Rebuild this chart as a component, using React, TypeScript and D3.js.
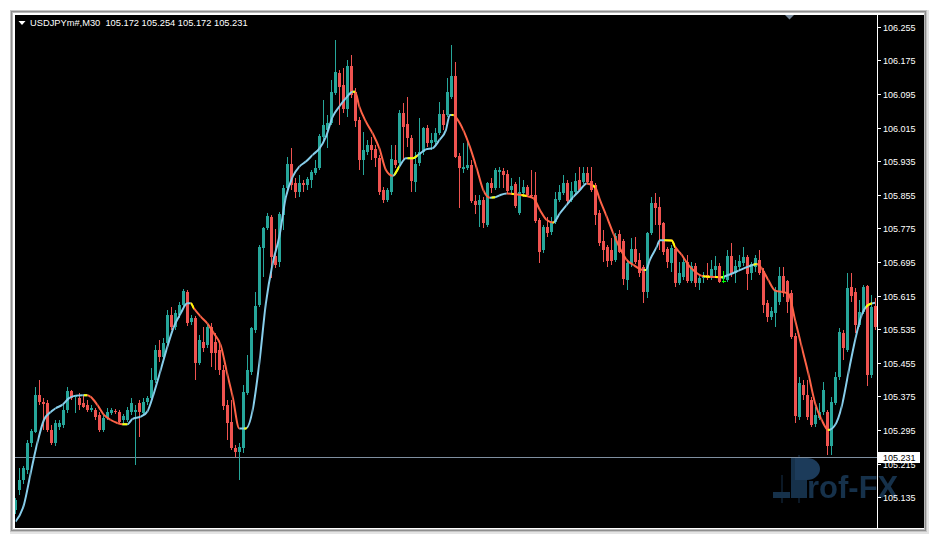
import React from "react";
import * as d3 from "d3";

// ---------- DATA (USDJPYm#, M30 candles) ----------
const opens = [
  105.105,105.152,105.176,105.200,105.264,105.290,105.378,105.362,105.359,105.295,
  105.264,105.302,105.307,105.343,105.388,105.374,105.371,105.359,105.355,105.343,
  105.343,105.331,105.295,105.324,105.336,105.340,105.338,105.319,105.319,105.338,
  105.338,105.359,105.336,105.362,105.371,105.414,105.486,105.469,105.502,105.569,
  105.540,105.569,105.593,105.624,105.552,105.562,105.455,105.505,105.497,105.540,
  105.505,105.486,105.438,105.355,105.314,105.252,105.243,105.252,105.383,105.433,
  105.533,105.593,105.728,105.776,105.802,105.709,105.695,105.807,105.871,105.928,
  105.883,105.862,105.883,105.878,105.890,105.907,105.919,105.992,106.009,106.026,
  106.097,106.145,106.116,106.059,106.161,106.100,106.033,105.938,105.957,105.973,
  105.964,105.942,105.866,105.843,105.862,105.938,105.931,106.050,106.023,105.990,
  105.885,105.931,105.957,106.014,105.978,105.981,106.002,106.047,106.045,106.088,
  106.138,105.947,105.916,105.919,105.926,105.840,105.831,105.843,105.783,105.883,
  105.871,105.909,105.911,105.904,105.866,105.881,105.812,105.859,105.874,105.854,
  105.854,105.795,105.723,105.778,105.766,105.790,105.843,105.859,105.883,105.843,
  105.862,105.890,105.885,105.907,105.888,105.878,105.812,105.745,105.731,105.723,
  105.700,105.762,105.745,105.652,105.693,105.726,105.700,105.683,105.624,105.764,
  105.835,105.826,105.788,105.726,105.693,105.726,105.645,105.659,105.695,105.650,
  105.685,105.645,105.657,105.664,105.659,105.676,105.685,105.654,105.652,105.709,
  105.669,105.683,105.693,105.707,105.669,105.683,105.700,105.674,105.597,105.564,
  105.574,105.600,105.662,105.650,105.621,105.519,105.326,105.402,105.378,105.367,
  105.309,105.324,105.338,105.338,105.257,105.359,105.421,105.526,105.486,105.635,
  105.624,105.545,105.576,105.638,105.426,105.590,
];
const highs = [
  105.133,105.205,105.209,105.271,105.297,105.397,105.414,105.371,105.367,105.307,
  105.319,105.319,105.355,105.397,105.390,105.378,105.383,105.378,105.367,105.355,
  105.347,105.338,105.331,105.347,105.347,105.345,105.343,105.333,105.350,105.371,
  105.355,105.367,105.371,105.376,105.443,105.497,105.509,105.514,105.581,105.588,
  105.581,105.600,105.631,105.628,105.569,105.566,105.521,105.540,105.547,105.550,
  105.526,105.502,105.450,105.367,105.367,105.259,105.264,105.402,105.474,105.540,
  105.624,105.735,105.778,105.812,105.807,105.773,105.814,105.878,105.945,105.966,
  105.895,105.902,105.890,105.897,105.914,105.938,106.000,106.081,106.045,106.128,
  106.223,106.152,106.157,106.176,106.188,106.109,106.040,106.004,105.985,105.992,
  105.973,105.950,105.874,105.871,105.973,105.973,106.057,106.073,106.088,105.997,
  105.957,106.038,106.016,106.021,106.002,106.014,106.076,106.057,106.133,106.211,
  106.171,105.954,105.978,105.985,105.938,105.854,105.854,105.850,105.885,105.895,
  105.919,105.921,105.919,105.914,105.895,105.885,105.897,105.890,105.878,105.914,
  105.909,105.800,105.783,105.802,105.802,105.862,105.878,105.902,105.890,105.885,
  105.907,105.921,105.921,105.921,105.921,105.883,105.819,105.771,105.735,105.752,
  105.764,105.771,105.750,105.700,105.752,105.754,105.716,105.688,105.766,105.850,
  105.859,105.850,105.790,105.731,105.735,105.731,105.695,105.704,105.712,105.695,
  105.693,105.664,105.671,105.693,105.700,105.709,105.693,105.669,105.723,105.740,
  105.700,105.712,105.731,105.712,105.695,105.712,105.723,105.681,105.605,105.588,
  105.635,105.683,105.683,105.652,105.628,105.526,105.421,105.414,105.414,105.374,
  105.350,105.359,105.409,105.343,105.374,105.433,105.538,105.533,105.669,105.669,
  105.633,105.605,105.640,105.640,105.616,105.609,
];
const lows = [
  105.095,105.140,105.167,105.190,105.255,105.288,105.355,105.295,105.290,105.259,
  105.257,105.295,105.300,105.336,105.367,105.336,105.343,105.347,105.338,105.338,
  105.319,105.290,105.290,105.319,105.331,105.333,105.309,105.312,105.314,105.331,
  105.212,105.278,105.328,105.355,105.367,105.407,105.457,105.462,105.495,105.533,
  105.533,105.562,105.585,105.543,105.545,105.414,105.450,105.481,105.490,105.445,
  105.438,105.426,105.343,105.271,105.248,105.231,105.176,105.240,105.378,105.426,
  105.526,105.588,105.659,105.771,105.657,105.681,105.683,105.771,105.866,105.866,
  105.847,105.850,105.862,105.866,105.871,105.902,105.914,105.978,105.966,106.021,
  106.092,106.021,106.050,106.040,106.085,106.016,105.914,105.902,105.950,105.938,
  105.921,105.854,105.835,105.838,105.854,105.919,105.923,105.938,105.969,105.862,
  105.862,105.923,105.950,105.969,105.961,105.973,105.997,106.009,106.040,106.083,
  105.942,105.823,105.907,105.914,105.835,105.809,105.778,105.776,105.778,105.859,
  105.866,105.871,105.871,105.859,105.859,105.823,105.807,105.850,105.850,105.850,
  105.788,105.693,105.716,105.754,105.759,105.785,105.838,105.854,105.835,105.838,
  105.857,105.862,105.881,105.881,105.862,105.783,105.733,105.695,105.683,105.688,
  105.695,105.716,105.640,105.628,105.683,105.690,105.659,105.597,105.609,105.759,
  105.783,105.723,105.712,105.681,105.671,105.635,105.640,105.652,105.645,105.645,
  105.635,105.628,105.645,105.652,105.652,105.659,105.645,105.650,105.647,105.659,
  105.645,105.676,105.685,105.628,105.652,105.671,105.664,105.574,105.552,105.557,
  105.540,105.593,105.612,105.574,105.512,105.312,105.319,105.367,105.319,105.302,
  105.302,105.319,105.331,105.236,105.236,105.355,105.414,105.462,105.481,105.600,
  105.526,105.540,105.571,105.400,105.419,105.533,
];
const closes = [
  105.128,105.176,105.205,105.264,105.293,105.378,105.362,105.357,105.295,105.264,
  105.312,105.312,105.343,105.388,105.371,105.378,105.355,105.350,105.343,105.347,
  105.326,105.295,105.324,105.338,105.343,105.338,105.314,105.328,105.343,105.359,
  105.343,105.338,105.362,105.371,105.414,105.486,105.469,105.502,105.569,105.540,
  105.574,105.593,105.626,105.550,105.562,105.455,105.509,105.490,105.540,105.478,
  105.478,105.438,105.352,105.312,105.252,105.243,105.255,105.386,105.438,105.538,
  105.590,105.731,105.776,105.804,105.707,105.688,105.809,105.871,105.928,105.878,
  105.862,105.883,105.878,105.892,105.909,105.919,105.995,106.021,106.026,106.100,
  106.147,106.111,106.059,106.161,106.092,106.031,105.938,105.961,105.973,105.961,
  105.942,105.862,105.843,105.866,105.940,105.926,106.050,106.016,105.990,105.888,
  105.928,105.957,106.014,105.978,105.985,106.002,106.047,106.021,106.100,106.138,
  105.945,105.919,105.921,105.926,105.840,105.831,105.843,105.788,105.883,105.871,
  105.914,105.914,105.902,105.864,105.876,105.828,105.862,105.874,105.854,105.851,
  105.792,105.719,105.778,105.764,105.790,105.845,105.862,105.883,105.840,105.864,
  105.888,105.866,105.907,105.885,105.866,105.807,105.740,105.723,105.697,105.697,
  105.757,105.719,105.654,105.693,105.726,105.695,105.669,105.624,105.764,105.835,
  105.823,105.783,105.719,105.695,105.728,105.645,105.669,105.695,105.650,105.685,
  105.645,105.657,105.664,105.657,105.678,105.685,105.647,105.659,105.709,105.666,
  105.685,105.697,105.707,105.666,105.690,105.704,105.669,105.593,105.564,105.578,
  105.628,105.662,105.621,105.600,105.516,105.328,105.407,105.378,105.326,105.307,
  105.331,105.338,105.390,105.257,105.362,105.421,105.528,105.490,105.633,105.614,
  105.545,105.576,105.635,105.426,105.588,105.540,
];

// smoothed moving-average indicator, sampled at bar positions
const maIndex = [
  0,2.1,3.8,5.45,7.1,8.8,10.05,11.7,13.4,15.05,16.7,17.95,18.8,20.45,22.1,23.8,25.45,26.7,27.95,29.2,
  31.3,32.95,34.6,36.3,37.95,39.6,41.3,42.95,43.8,44.6,46.3,47.95,49.6,51.3,53,54.3,55.95,57.6,59.3,60.95,
  62.6,64.3,65.95,67.6,69.3,70.95,72.6,74.3,75.95,77.6,79.3,80.95,82.6,84.3,84.9,85.95,87.6,89.3,90.95,92.6,
  94.3,95.95,97.6,99.3,100.95,102.6,104.3,105.95,107.6,108.6,109.5,110.3,111.95,113.6,115.3,116.95,118.6,119.9,121.1,122.8,
  124.45,127.8,129.45,131.1,132.8,134.45,136.1,137.8,139.45,141.1,142.8,144.9,146.1,147.8,149.45,151.1,152.8,154.45,156.95,157.6,
  158.6,160.3,161.1,162.4,164.05,164.9,166.55,168.2,169.9,171.55,173.2,176.55,178.2,180.7,183.2,185.3,186.55,188.2,189.9,191.55,
  193.2,194.9,196.55,198.2,199.9,201.55,203.2,204.9,206.55,208.2,209.9,211.55,213.2,214.9,
];
const maValue = [
  105.077,105.117,105.193,105.264,105.319,105.338,105.347,105.355,105.371,105.377,105.378,105.378,105.374,105.355,105.331,105.319,105.312,105.309,105.309,105.321,
  105.327,105.339,105.383,105.438,105.493,105.541,105.573,105.597,105.597,105.585,105.565,105.549,105.525,105.497,105.426,105.374,105.299,105.299,105.343,105.454,
  105.597,105.692,105.755,105.850,105.898,105.922,105.934,105.950,105.965,105.993,106.041,106.065,106.085,106.100,106.100,106.065,106.029,106.001,105.966,105.914,
  105.900,105.922,105.942,105.942,105.952,105.963,105.966,105.985,106.009,106.045,106.045,106.037,106.009,105.969,105.918,105.866,105.848,105.849,105.854,105.858,
  105.857,105.852,105.847,105.819,105.795,105.789,105.811,105.831,105.850,105.866,105.882,105.873,105.843,105.803,105.763,105.728,105.700,105.688,105.676,105.676,
  105.700,105.731,105.747,105.747,105.746,105.731,105.712,105.688,105.672,105.662,105.660,105.659,105.664,105.674,105.684,105.690,105.680,105.652,105.627,105.624,
  105.620,105.557,105.493,105.430,105.359,105.319,105.295,105.307,105.351,105.430,105.509,105.569,105.593,105.598,
];
// bar ranges where the indicator is drawn in its "neutral" (yellow) colour
const maNeutral = [
  [17.1,17.95],[26.7,27.95],[43.8,44.6],[57.2,57.8],[84.3,84.9],[94.7,95.95],[98,100.5],
  [109,109.5],[119,119.9],[124,124.6],[126.5,127.8],[134.3,134.6],[144.4,144.9],[157.2,157.6],
  [162.2,164.9],[171.9,173.6],[174.9,175.6],[176.3,176.8],[184.5,185.3],[203.1,203.5],[212.6,214.1],
];

const priceTicks = [
  106.255,106.175,106.095,106.015,105.935,105.855,105.775,105.695,105.615,
  105.535,105.455,105.375,105.295,105.215,105.135,105.055,
];
const currentPrice = 105.231;
const titleSymbol = "USDJPYm#,M30";
const titleQuote = [105.172, 105.254, 105.172, 105.231];
const markerBar = 177;
const markerRange = [105.645, 105.674];

// ---------- STYLE ----------
const UP = "#26a69a";
const DOWN = "#ef5350";
const MA_UP = "#87ceeb";
const MA_DOWN = "#ff6347";
const MA_FLAT = "#ffff00";
const FONT = "'Liberation Sans', Arial, sans-serif";

export default function App() {
  const N = opens.length;
  const plotL = 15, plotR = 877, plotT = 15, plotB = 527;
  const x = d3.scaleLinear().domain([0, N - 1]).range([15.5, 875.5]);
  const y = d3.scaleLinear().domain([106.255, 105.135]).range([26.7, 497.3]);
  const yr = (v: number) => Math.round(y(v));

  const maPts: [number, number][] = maIndex.map((i, k) => [i, maValue[k]]);
  const maLine = d3
    .line<[number, number]>()
    .x((d) => x(d[0]))
    .y((d) => y(d[1]))
    .curve(d3.curveMonotoneX);
  const maPath = maLine(maPts) || "";

  const upSegs: [number, number][] = [];
  const downSegs: [number, number][] = [];
  for (let k = 0; k < maPts.length - 1; k++) {
    const seg: [number, number] = [x(maPts[k][0]), x(maPts[k + 1][0])];
    if (maPts[k + 1][1] >= maPts[k][1]) upSegs.push(seg);
    else downSegs.push(seg);
  }

  const fmt = d3.format(".3f");
  const tickX = plotR;

  return (
    <svg
      width={936}
      height={539}
      style={{ position: "absolute", left: 0, top: 0, display: "block" }}
    >
      <defs>
        <clipPath id="plotClip">
          <rect x={plotL} y={plotT} width={plotR - plotL} height={plotB - plotT} />
        </clipPath>
        <clipPath id="axisClip">
          <rect x={plotR} y={plotT} width={924 - plotR} height={plotB - plotT + 1} />
        </clipPath>
        <clipPath id="maUp">
          {upSegs.map((s, k) => (
            <rect key={k} x={s[0]} y={0} width={s[1] - s[0] + 0.01} height={539} />
          ))}
        </clipPath>
        <clipPath id="maDown">
          {downSegs.map((s, k) => (
            <rect key={k} x={s[0]} y={0} width={s[1] - s[0] + 0.01} height={539} />
          ))}
        </clipPath>
        <clipPath id="maFlat">
          {maNeutral.map((r, k) => (
            <rect key={k} x={x(r[0])} y={0} width={x(r[1]) - x(r[0])} height={539} />
          ))}
        </clipPath>
      </defs>

      {/* page + window frame */}
      <rect x={0} y={0} width={936} height={539} fill="#ffffff" />
      <rect x={10} y={10} width={919} height={524} fill="#e4e4e4" />
      <rect x={10} y={10} width={917} height={522} fill="#c4c4c4" />
      <rect x={11} y={11} width={915} height={520} fill="#8e8e8e" />
      <rect x={12} y={12} width={913} height={518} fill="#b8b8b8" />
      <rect x={13} y={13} width={911} height={516} fill="#ffffff" />
      <rect x={15} y={15} width={909} height={513} fill="#000000" />

      {/* plot border (white) */}
      <g shapeRendering="crispEdges" stroke="#ffffff" strokeWidth={1}>
        <line x1={14.5} y1={14.5} x2={877.5} y2={14.5} />
        <line x1={14.5} y1={14.5} x2={14.5} y2={527.5} />
        <line x1={877.5} y1={14.5} x2={877.5} y2={528} />
      </g>

      {/* watermark */}
      <g opacity={0.85}>
        <rect x={773} y={492} width={17} height={6} fill="#1b3a58" />
        <rect x={781.5} y={475} width={1} height={28} fill="#1b3a58" />
        <rect x={791} y={458} width={16} height={40} fill="#1b3a58" />
        <rect x={798.5} y={455} width={1} height={48} fill="#1b3a58" />
        <path d="M795,458 L807,458 A13,11 0 0 1 807,480 L795,480 Z" fill="#22466a" />
        <text
          x={807}
          y={498}
          fontFamily={FONT}
          fontWeight="bold"
          fontSize={31}
          fill="#1b3a58"
        >
          rof-FX
        </text>
      </g>

      {/* current price line */}
      <line
        x1={plotL}
        x2={plotR}
        y1={yr(currentPrice) + 0.5}
        y2={yr(currentPrice) + 0.5}
        stroke="#7f8fa0"
        strokeWidth={1}
        shapeRendering="crispEdges"
      />

      {/* candles */}
      <g clipPath="url(#plotClip)" shapeRendering="crispEdges">
        {opens.map((o, i) => {
          const c = closes[i];
          const cx = x(i);
          const col = c >= o ? UP : DOWN;
          const top = yr(Math.max(o, c));
          const bot = yr(Math.min(o, c));
          const hi = yr(highs[i]);
          const lo = yr(lows[i]);
          return (
            <g key={i} fill={col}>
              <rect x={cx - 0.5} y={hi} width={1} height={Math.max(1, lo - hi)} />
              <rect x={cx - 1.5} y={top} width={3} height={Math.max(1, bot - top)} />
            </g>
          );
        })}
      </g>

      {/* indicator line */}
      <g clipPath="url(#plotClip)" fill="none" strokeWidth={2} strokeLinejoin="round">
        <g clipPath="url(#maUp)">
          <path d={maPath} stroke={MA_UP} />
        </g>
        <g clipPath="url(#maDown)">
          <path d={maPath} stroke={MA_DOWN} />
        </g>
        <g clipPath="url(#maFlat)">
          <path d={maPath} stroke={MA_FLAT} />
        </g>
      </g>

      {/* marker */}
      <g stroke="#00ff00" strokeWidth={1} shapeRendering="crispEdges">
        <line x1={x(markerBar)} x2={x(markerBar)} y1={yr(markerRange[1])} y2={yr(markerRange[0])} />
        <line x1={x(markerBar) - 2} x2={x(markerBar) + 2} y1={yr(markerRange[0]) - 1.5} y2={yr(markerRange[0]) - 1.5} />
      </g>

      {/* shift marker */}
      <polygon points="785,15 794,15 789.5,19.5" fill="#778899" />

      {/* price axis */}
      <g clipPath="url(#axisClip)">
        {priceTicks.map((p) => (
          <g key={p}>
            <line
              x1={tickX}
              x2={tickX + 4}
              y1={yr(p) + 0.5}
              y2={yr(p) + 0.5}
              stroke="#ffffff"
              shapeRendering="crispEdges"
            />
            <text
              x={883}
              y={yr(p) + 3.5}
              fontFamily={FONT}
              fontSize={9}
              fill="#ffffff"
            >
              {fmt(p)}
            </text>
          </g>
        ))}
        <rect
          x={878}
          y={yr(currentPrice) - 5}
          width={42}
          height={11}
          fill="#ffffff"
          shapeRendering="crispEdges"
        />
        <text
          x={883}
          y={yr(currentPrice) + 4}
          fontFamily={FONT}
          fontSize={9}
          fill="#000000"
        >
          {fmt(currentPrice)}
        </text>
      </g>

      {/* title */}
      <polygon points="18.5,21 25.5,21 22,25" fill="#ffffff" />
      <text
        x={30}
        y={26}
        fontFamily={FONT}
        fontSize={9.3}
        fill="#ffffff"
        style={{ whiteSpace: "pre" }}
      >
        {`${titleSymbol}  ${titleQuote.map((v) => fmt(v)).join(" ")}`}
      </text>
    </svg>
  );
}
